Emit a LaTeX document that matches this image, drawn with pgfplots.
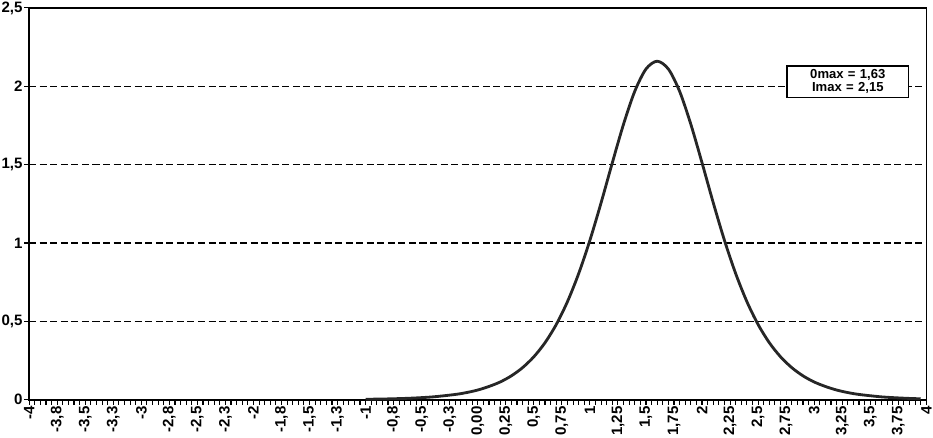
\documentclass[border=0pt]{standalone}
\usepackage{pgfplots}
\pgfplotsset{compat=1.18}
\usepackage{fontspec}
\setmainfont{Liberation Sans}
\begin{document}
\begin{tikzpicture}
\begin{axis}[
  scale only axis,
  width=893pt, height=390pt,
  xmin=-4, xmax=4, ymin=0, ymax=2.5,
  axis line style={line width=1.6pt, black},
  xtick={-4,-3.75,-3.5,-3.25,-3,-2.75,-2.5,-2.25,-2,-1.75,-1.5,-1.25,-1,-0.75,-0.5,-0.25,0,0.25,0.5,0.75,1,1.25,1.5,1.75,2,2.25,2.5,2.75,3,3.25,3.5,3.75,4},
  xticklabels={{-4},{-3,8},{-3,5},{-3,3},{-3},{-2,8},{-2,5},{-2,3},{-2},{-1,8},{-1,5},{-1,3},{-1},{-0,8},{-0,5},{-0,3},{0,00},{0,25},{0,5},{0,75},{1},{1,25},{1,5},{1,75},{2},{2,25},{2,5},{2,75},{3},{3,25},{3,5},{3,75},{4}},
  minor x tick num=4,
  ytick={0,0.5,1,1.5,2,2.5},
  yticklabels={{0},{0,5},{1},{1,5},{2},{2,5}},
  xtick pos=left, ytick pos=left,
  tick align=outside,
  major tick length=5pt, minor tick length=5pt,
  every tick/.style={black, line width=1.1pt},
  xticklabel style={rotate=90, anchor=east, font=\fontsize{15}{16}\selectfont\bfseries, inner sep=1.5pt},
  yticklabel style={font=\fontsize{15}{16}\selectfont\bfseries, inner sep=1.5pt},
  clip=false,
]
% dashed grid lines
\addplot[black, line width=1.4pt, dash pattern=on 7pt off 3.5pt, forget plot] coordinates {(-4,0.5) (4,0.5)};
\addplot[black, line width=1.4pt, dash pattern=on 7pt off 3.5pt, forget plot] coordinates {(-4,1) (4,1)};
\addplot[black, line width=1.4pt, dash pattern=on 7pt off 3.5pt, forget plot] coordinates {(-4,1.5) (4,1.5)};
\addplot[black, line width=1.4pt, dash pattern=on 7pt off 3.5pt, forget plot] coordinates {(-4,2) (4,2)};
% curve
\addplot[black!85, line width=2.8pt, smooth, line join=round] coordinates {
(-1.0,0.003) (-0.8,0.0054) (-0.6,0.0099) (-0.4,0.0183) (-0.2,0.0338) (-0.1,0.0457)
(0.0,0.062) (0.1,0.0847) (0.2,0.1133) (0.3,0.1526) (0.4,0.205) (0.5,0.274)
(0.6,0.364) (0.7,0.480) (0.8,0.626) (0.9,0.805) (1.0,1.017) (1.1,1.257)
(1.2,1.512) (1.3,1.758) (1.4,1.968) (1.5,2.110) (1.6,2.16) (1.7,2.110)
(1.8,1.968) (1.9,1.758) (2.0,1.512) (2.1,1.257) (2.2,1.017) (2.3,0.805)
(2.4,0.626) (2.5,0.480) (2.6,0.364) (2.7,0.274) (2.8,0.205) (2.9,0.1526)
(3.0,0.1133) (3.1,0.0847) (3.2,0.062) (3.3,0.0457) (3.4,0.0338) (3.6,0.0183)
(3.8,0.0099) (3.95,0.006)
};
\node[draw=black, line width=1.3pt, fill=white, align=center, inner sep=1.5pt,
      text width=118pt, minimum height=31pt,
      font=\fontsize{13}{13.5}\selectfont\bfseries]
  at (axis cs:3.3,2.03) {0max = 1,63\\ Imax = 2,15};
\end{axis}
\end{tikzpicture}
\end{document}
